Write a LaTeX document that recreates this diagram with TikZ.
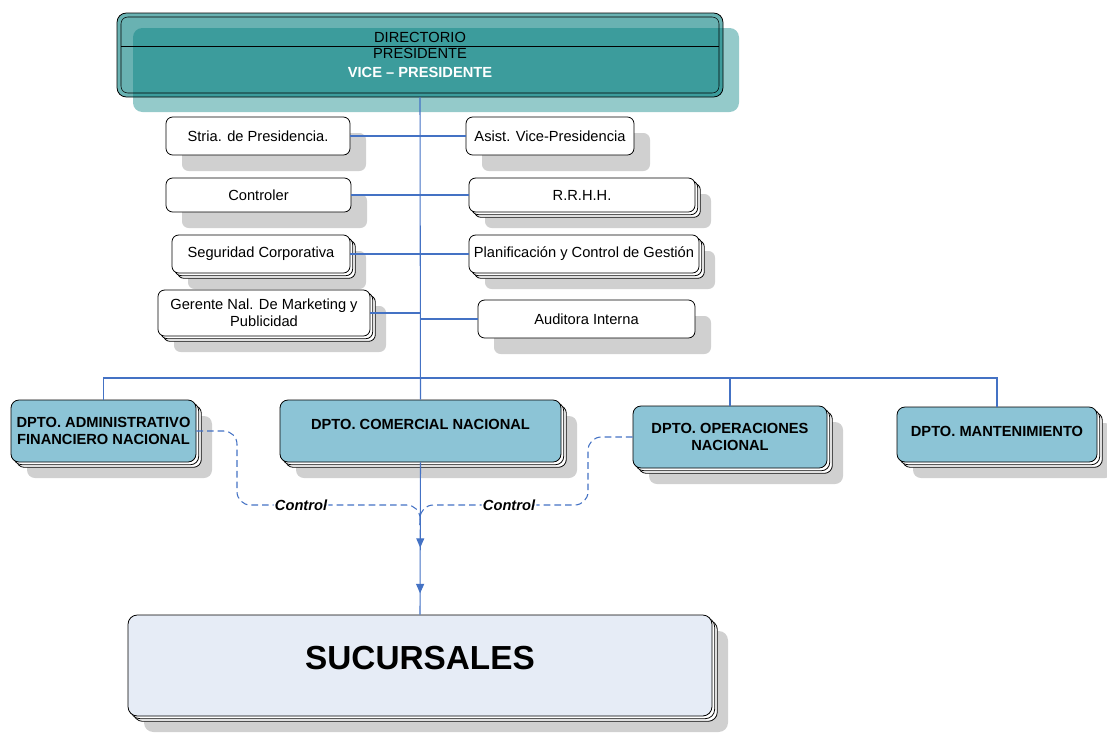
\documentclass[tikz,border=0pt]{standalone}
\usepackage{fontspec}
\setmainfont{Liberation Sans}
\usetikzlibrary{shadows, arrows.meta, decorations.markings}

\definecolor{lineblue}{RGB}{68,114,196}
\definecolor{topteal}{RGB}{0,124,124}
\definecolor{paleteal}{RGB}{148,202,202}
\definecolor{deptblue}{RGB}{140,196,214}
\definecolor{sucfill}{RGB}{230,236,246}
\definecolor{shadowgray}{RGB}{208,208,208}

\tikzset{
  grayshadow/.style={general shadow={fill=shadowgray, shadow xshift=12pt, shadow yshift=-12pt}},
  stacked/.style={general shadow={draw=black, fill=white, shadow xshift=4pt, shadow yshift=-4pt},
                  general shadow={draw=black, fill=white, shadow xshift=2pt, shadow yshift=-2pt}},
  topbox/.style={draw=black, line width=0.6pt, fill=topteal, fill opacity=0.59, text opacity=1,
                 rounded corners=7pt, align=center, minimum width=454.5pt, minimum height=63pt,
                 font=\fontsize{11}{12}\selectfont,
                 general shadow={fill=paleteal, fill opacity=1, shadow xshift=12pt, shadow yshift=-11.25pt}},
  staffbox/.style={draw=black, line width=0.6pt, fill=white, rounded corners=5pt, align=center,
                   inner sep=2pt, minimum height=28.5pt, grayshadow},
  deptbox/.style={draw=black, line width=0.6pt, fill=deptblue, rounded corners=6pt, align=center,
                  font=\bfseries, inner sep=2pt, minimum height=46.5pt, grayshadow, stacked},
  orgline/.style={draw=lineblue, line width=0.8pt},
  ctrlline/.style={draw=lineblue, line width=0.8pt, dash pattern=on 5pt off 3pt, rounded corners=10pt},
  ctrllabel/.style={fill=white, inner sep=1pt, font=\bfseries\itshape},
  arrowmarks/.style={postaction={decorate}, decoration={markings,
      mark=at position 0.56 with {\arrow[lineblue]{Triangle[length=7pt,width=6pt]}},
      mark=at position 0.86 with {\arrow[lineblue]{Triangle[length=7pt,width=6pt]}}}},
}

\begin{document}
\fontsize{11}{13}\selectfont
\begin{tikzpicture}[x=0.75pt,y=0.75pt,yscale=-1,xscale=1]
\useasboundingbox (0,0) rectangle (1107,733);

%Shape: Directorio box
\node[topbox] (top) at (420,55) {DIRECTORIO\\PRESIDENTE\\[2pt]\textcolor{white}{\bfseries VICE – PRESIDENTE}};
\draw [rounded corners=5pt] (121,17) rectangle (719,93);
\draw (121,46) -- (719,46);

% Staff nodes, left column
\node[staffbox, minimum width=138pt] (stria) at (258,136) {Stria. de Presidencia.};
\node[staffbox, minimum width=138.75pt, minimum height=25.5pt] (controler) at (258.5,195) {Controler};
\node[staffbox, stacked, minimum width=133.5pt] (seguridad) at (261,254) {Seguridad Corporativa};
\node[staffbox, stacked, minimum width=159pt, minimum height=34.5pt] (gerente) at (264,313) {Gerente Nal. De Marketing y\\Publicidad};

% Staff nodes, right column
\node[staffbox, minimum width=126pt] (asist) at (550,136) {Asist. Vice-Presidencia};
\node[staffbox, stacked, minimum width=169.5pt, minimum height=25.5pt] (rrhh) at (582,195) {R.R.H.H.};
\node[staffbox, stacked, minimum width=172.5pt] (planif) at (584,254) {Planificación y Control de Gestión};
\node[staffbox, minimum width=162.75pt] (auditora) at (586.5,319) {Auditora Interna};

% Departments
\node[deptbox, minimum width=138.75pt] (admin) at (103.5,431) {DPTO. ADMINISTRATIVO\\FINANCIERO NACIONAL};
\node[deptbox, minimum width=210.75pt, text depth=10pt] (comercial) at (420.5,431) {DPTO. COMERCIAL NACIONAL};
\node[deptbox, minimum width=145.5pt] (operac) at (730,437) {DPTO. OPERACIONES\\NACIONAL};
\node[deptbox, minimum width=150pt, minimum height=41.25pt, text depth=4pt] (mant) at (997,434.5) {DPTO. MANTENIMIENTO};

%Shape: Sucursales box
\node[draw=black, line width=0.6pt, fill=sucfill, rounded corners=7pt, minimum width=438pt, minimum height=75.75pt,
      text depth=11pt, font=\fontsize{25}{30}\selectfont\bfseries, grayshadow, stacked] (sucursales) at (420,665.5) {SUCURSALES};

\coordinate (bus) at (420,378);
\coordinate (cmerge) at (420,525);

% Lines
\draw[orgline] (top.south) -- (comercial.north);
\draw[orgline] (stria.east) -- (asist.west);
\draw[orgline] (controler.east) -- (rrhh.west);
\draw[orgline] (seguridad.east) -- (planif.west);
\draw[orgline] (gerente.east) -- (gerente.east -| top.south);
\draw[orgline] (auditora.west) -- (auditora.west -| top.south);
\draw[orgline] (admin.north) |- (bus) -| (mant.north);
\draw[orgline] (operac.north) |- (bus);
\draw[orgline, arrowmarks] (comercial.south) -- (sucursales.north);

% Control lines
\draw[ctrlline] (admin.east) -- (237,431) -- (237,505) -- node[ctrllabel, pos=0.35] (ctrlA) {Control} (420,505) -- (cmerge);
\draw[ctrlline] (operac.west) -- (588,437) -- (588,505) -- node[ctrllabel, pos=0.47] (ctrlB) {Control} (420,505) -- (cmerge);

\end{tikzpicture}
\end{document}
